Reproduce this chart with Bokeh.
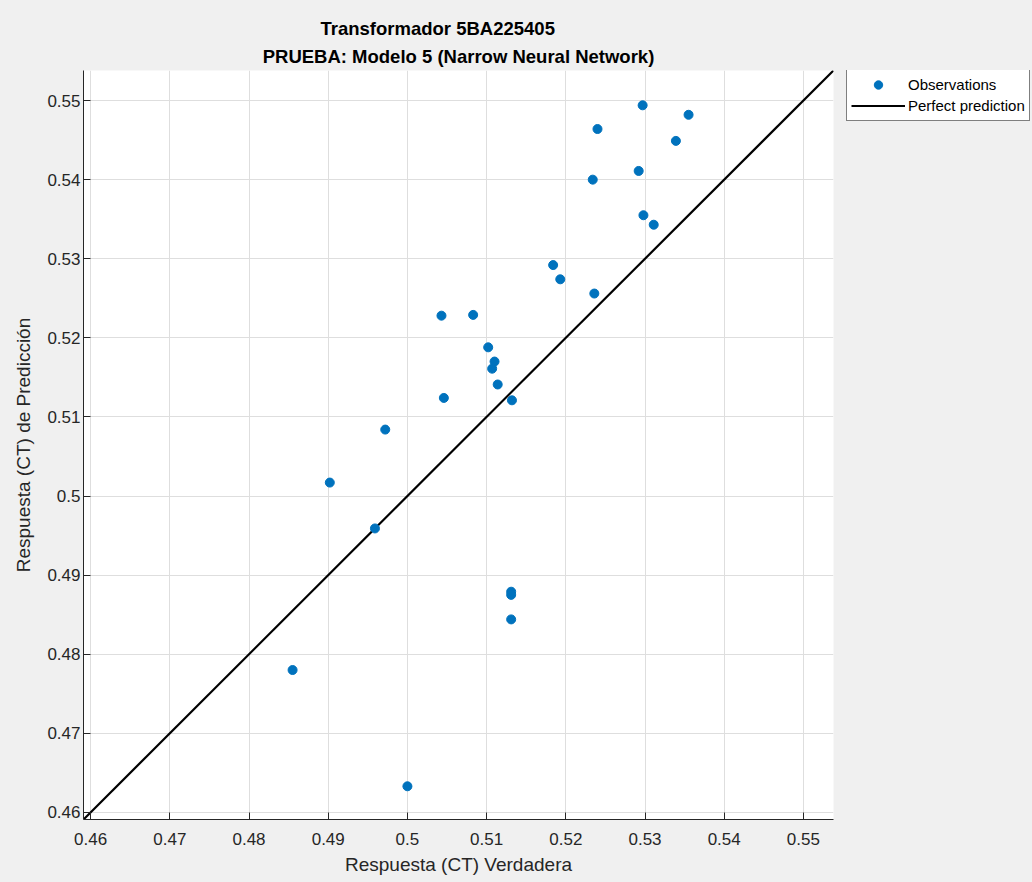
from bokeh.plotting import figure
from bokeh.models import Title, Legend, LegendItem, FixedTicker, Range1d, ColumnDataSource
from bokeh.layouts import row
from bokeh.embed import file_html
from bokeh.resources import INLINE

# ---- data ----
x_true = [0.5297, 0.5355, 0.5240, 0.5339, 0.5292, 0.5234, 0.5298, 0.5311,
          0.5184, 0.5193, 0.5236, 0.5043, 0.5083, 0.5102, 0.5110, 0.5107,
          0.5114, 0.5046, 0.5132, 0.4972, 0.4902, 0.4959, 0.5131, 0.5131,
          0.5131, 0.4855, 0.5000]
y_pred = [0.5494, 0.5482, 0.5464, 0.5449, 0.5411, 0.5400, 0.5355, 0.5343,
          0.5292, 0.5274, 0.5256, 0.5228, 0.5229, 0.5188, 0.5170, 0.5161,
          0.5141, 0.5124, 0.5121, 0.5084, 0.5017, 0.4959, 0.4879, 0.4875,
          0.4844, 0.4780, 0.4633]
axis_limits = [0.4591, 0.5538]
tick_values = [0.46, 0.47, 0.48, 0.49, 0.50, 0.51, 0.52, 0.53, 0.54, 0.55]
tick_labels = ["0.46", "0.47", "0.48", "0.49", "0.5", "0.51", "0.52", "0.53", "0.54", "0.55"]
title_line1 = "Transformador 5BA225405"
title_line2 = "PRUEBA: Modelo 5 (Narrow Neural Network)"
x_label = "Respuesta (CT) Verdadera"
y_label = "Respuesta (CT) de Predicción"
series_names = ["Observations", "Perfect prediction"]

FONT = "Liberation Sans"
AX = "#262626"
BG = "#F0F0F0"
DOT = "#0072BD"

p = figure(width=834, height=882, output_backend="svg", toolbar_location=None,
           x_range=Range1d(*axis_limits), y_range=Range1d(*axis_limits),
           min_border_left=83, min_border_right=1, min_border_top=70, min_border_bottom=63,
           title=None)
p.border_fill_color = BG
p.background_fill_color = "white"
p.outline_line_color = None

# titles (added inner first)
t2 = Title(text=title_line2, align="center", text_font_size="18.5px", text_font_style="bold",
           text_font=FONT, text_color="#000000", standoff=8)
t1 = Title(text=title_line1, align="left", text_font_size="18.5px", text_font_style="bold",
           text_font=FONT, text_color="#000000", standoff=1, offset=237)
p.add_layout(t2, "above")
p.add_layout(t1, "above")

# perfect prediction line y = x across the axis range
line_r = p.line(x=axis_limits, y=axis_limits, line_color="black", line_width=2.2)
src = ColumnDataSource(dict(x=x_true, y=y_pred))
pts = p.scatter("x", "y", source=src, size=9, fill_color=DOT, line_color=DOT)

for ax in (p.xaxis[0], p.yaxis[0]):
    ax.ticker = FixedTicker(ticks=tick_values)
    ax.major_label_overrides = {v: l for v, l in zip(tick_values, tick_labels)}
    ax.minor_tick_line_color = None
    ax.major_tick_in = 7
    ax.major_tick_out = 0
    ax.axis_line_color = AX
    ax.major_tick_line_color = AX
    ax.major_label_text_color = AX
    ax.major_label_text_font = FONT
    ax.major_label_text_font_size = "17px"
    ax.axis_label_text_font = FONT
    ax.axis_label_text_font_size = "19px"
    ax.axis_label_text_font_style = "normal"
    ax.axis_label_text_color = AX

p.xaxis.axis_label = x_label
p.yaxis.axis_label = y_label
p.xaxis.major_label_standoff = 13
p.xaxis.axis_label_standoff = 6
p.yaxis.major_label_standoff = 3
p.yaxis.axis_label_standoff = 10

p.grid.grid_line_color = "#DEDEDE"
p.grid.grid_line_width = 1
p.xgrid.ticker = FixedTicker(ticks=tick_values)
p.ygrid.ticker = FixedTicker(ticks=tick_values)

# ---- legend panel (right of the axes) ----
q = figure(width=198, height=882, output_backend="svg", toolbar_location=None,
           x_range=Range1d(0, 1), y_range=Range1d(0, 1),
           min_border_left=0, min_border_right=0, min_border_top=0, min_border_bottom=0,
           title=None)
q.axis.visible = False
q.grid.visible = False
q.outline_line_color = None
q.border_fill_color = BG
q.background_fill_color = BG
# hidden copies of the two series, used only to draw the legend glyphs
leg_pts = q.scatter(x=x_true, y=y_pred, size=9, fill_color=DOT, line_color=DOT, visible=False)
leg_line = q.line(x=axis_limits, y=axis_limits, line_color="black", line_width=2.2, visible=False)

legend = Legend(items=[LegendItem(label=series_names[0], renderers=[leg_pts]),
                       LegendItem(label=series_names[1], renderers=[leg_line])],
                location=(12, 698))
legend.padding = 4
legend.margin = 0
legend.spacing = 0
legend.glyph_width = 54
legend.glyph_height = 21
legend.label_height = 21
legend.label_standoff = 3
legend.label_text_font = FONT
legend.label_text_font_size = "15px"
legend.label_text_color = "#000000"
legend.border_line_color = "black"
legend.border_line_width = 1
legend.background_fill_color = "white"
legend.background_fill_alpha = 1
legend.inactive_fill_alpha = 0
q.add_layout(legend, "center")

layout = row(p, q, spacing=0, styles={"background-color": BG})
open("out.html", "w").write(file_html(layout, INLINE))
